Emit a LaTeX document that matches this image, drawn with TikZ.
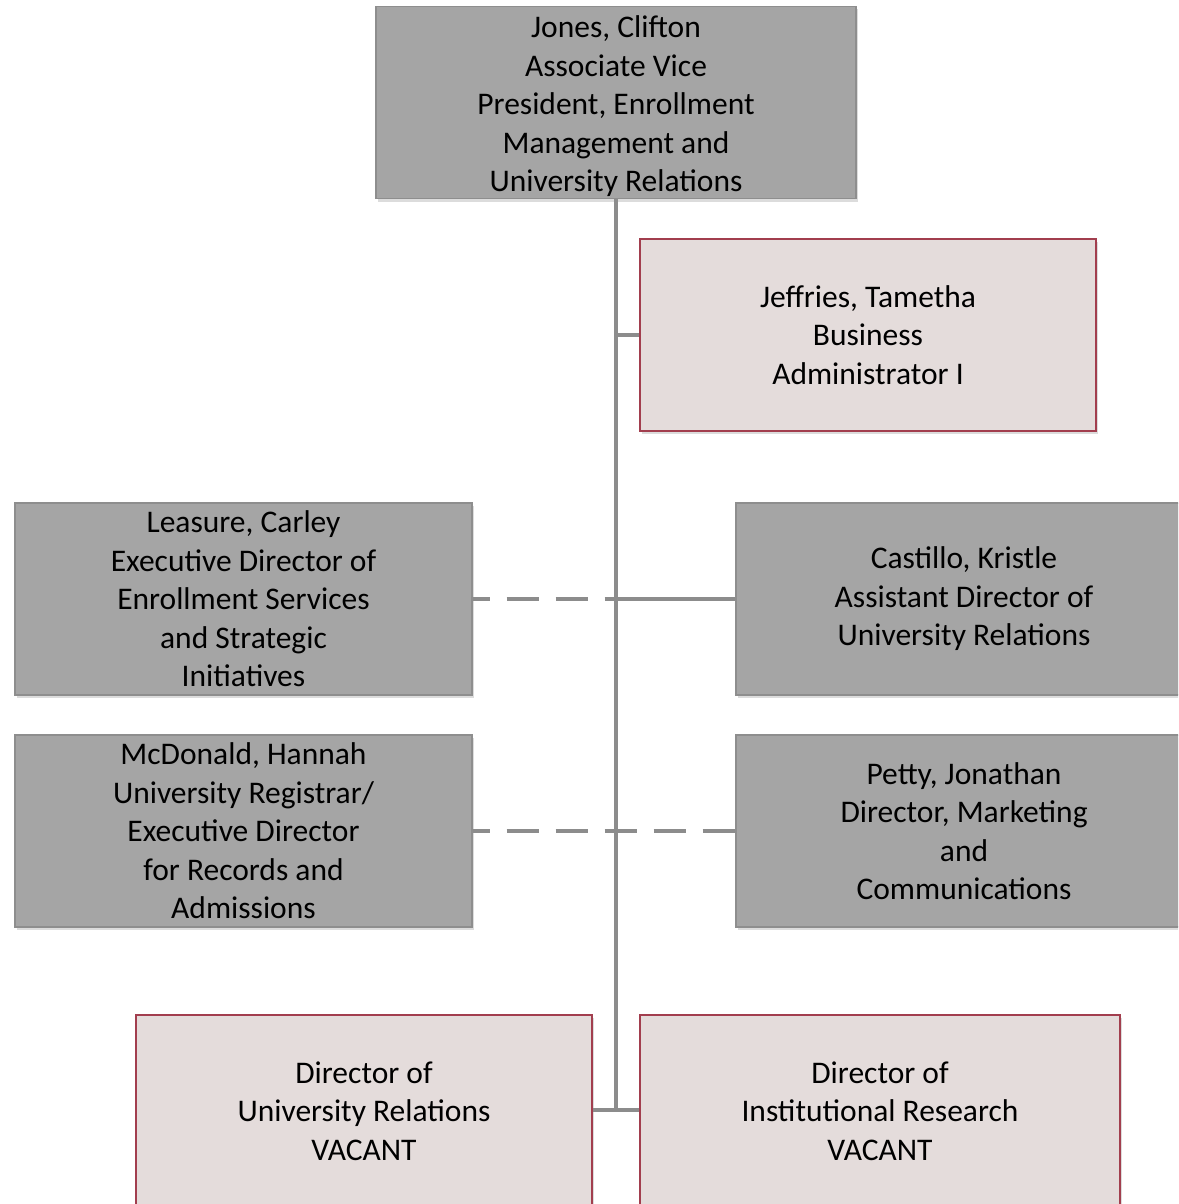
\documentclass[tikz,border=0pt]{standalone}
\usepackage{fontspec}
\setmainfont{Carlito}
\usetikzlibrary{shadows}
\definecolor{boxgray}{HTML}{A5A5A5}
\definecolor{boxgrayline}{HTML}{8E8E8E}
\definecolor{boxpink}{HTML}{E4DCDB}
\definecolor{boxpinkline}{HTML}{A23E4E}
\definecolor{linkgray}{HTML}{8C8C8C}
\tikzset{
  orgbox/.style={rectangle, draw, line width=1.4pt, align=center, inner sep=0pt,
    minimum height=192pt, font=\fontsize{31.5}{38.5}\selectfont,
    drop shadow={shadow xshift=2pt, shadow yshift=-3pt, fill=black!30, opacity=0.45}},
  graybox/.style={orgbox, fill=boxgray, draw=boxgrayline},
  pinkbox/.style={orgbox, fill=boxpink, draw=boxpinkline},
  link/.style={draw=linkgray, line width=3.5pt},
  dlink/.style={draw=linkgray, line width=3.5pt, dash pattern=on 32pt off 17pt, dash phase=15pt}
}
\begin{document}
\begin{tikzpicture}[x=1pt, y=-1pt]
\useasboundingbox (0,0) rectangle (1178,1204);
\clip (0,0) rectangle (1178,1204);
\fill[white] (0,0) rectangle (1178,1204);

\coordinate (spineBot) at (616,1110);
\coordinate (j1) at (616,335);
\coordinate (j2) at (616,599);
\coordinate (j3) at (616,1110);

\node[graybox, minimum width=480pt] (jones) at (616,102.5) {\rule{0pt}{30pt}Jones, Clifton\\Associate Vice\\President, Enrollment\\Management and\\University Relations};
\node[pinkbox, minimum width=456pt] (jeff) at (868,335) {Jeffries, Tametha\\Business\\Administrator I};
\node[graybox, minimum width=457pt] (leas) at (243.5,599) {Leasure, Carley\\Executive Director of\\Enrollment Services\\and Strategic\\Initiatives};
\node[graybox, minimum width=456pt] (cast) at (964,599) {Castillo, Kristle\\Assistant Director of\\University Relations};
\node[graybox, minimum width=457pt] (mcd) at (243.5,831) {McDonald, Hannah\\University Registrar/\\Executive Director\\for Records and\\Admissions};
\node[graybox, minimum width=456pt] (petty) at (964,831) {Petty, Jonathan\\Director, Marketing\\and\\Communications};
\node[pinkbox, minimum width=456pt] (dur) at (364,1111) {Director of\\University Relations\\VACANT};
\node[pinkbox, minimum width=480pt] (dir) at (880,1111) {Director of\\Institutional Research\\VACANT};

\draw[link] (jones.south) -- (spineBot);
\draw[link] (j1) -- (jeff.west);
\draw[link] (j2) -- (cast.west);
\draw[dlink] (leas.east) -- (j2);
\draw[dlink] (mcd.east) -- (petty.west);
\draw[link] (dur.east |- j3) -- (dir.west |- j3);
\end{tikzpicture}
\end{document}
